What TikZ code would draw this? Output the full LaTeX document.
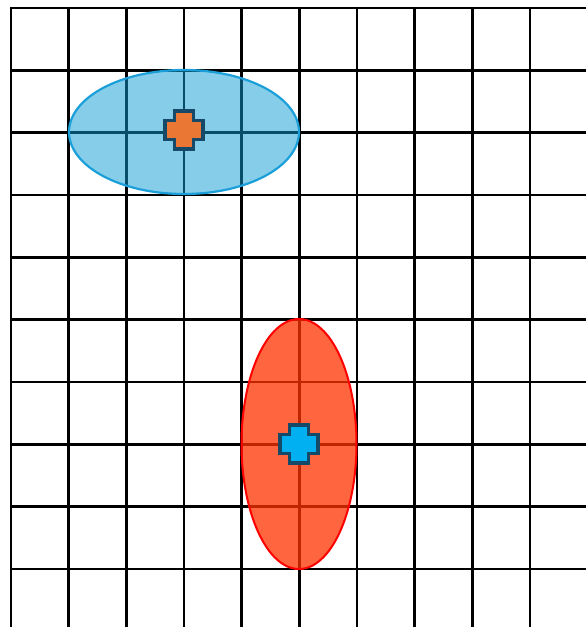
\documentclass[tikz,border=0pt]{standalone}
\usetikzlibrary{calc}
\definecolor{gridc}{RGB}{0,0,0}
\definecolor{bluefill}{RGB}{15,157,215}
\definecolor{blueline}{RGB}{26,159,217}
\definecolor{redfill}{RGB}{255,51,0}
\definecolor{redline}{RGB}{255,0,0}
\definecolor{plusline}{RGB}{22,72,104}
\definecolor{orangec}{RGB}{235,119,52}
\definecolor{cyanc}{RGB}{0,176,240}
\tikzset{
  gridline/.style={draw=gridc, line width=2.4pt},
  blueell/.style={draw=blueline, line width=2.2pt, fill=bluefill, fill opacity=0.5},
  redell/.style={draw=redline, line width=2pt, fill=redfill, fill opacity=0.75},
  plusmark/.style={draw=plusline, line width=3.6pt, line join=miter},
}
\newcommand{\plusat}[3]{% center x, center y, fill
  \filldraw[plusmark, fill=#3] ($(#1,#2)+(-9.5,-19)$) -- ++(19,0) -- ++(0,9.5) -- ++(9.5,0) -- ++(0,19) -- ++(-9.5,0) -- ++(0,9.5) -- ++(-19,0) -- ++(0,-9.5) -- ++(-9.5,0) -- ++(0,-19) -- ++(9.5,0) -- cycle;}
\begin{document}
\begin{tikzpicture}[x=1pt,y=-1pt]
  \useasboundingbox (0,0) rectangle (586,627);
  \fill[white] (0,0) rectangle (586,627);
  \begin{scope}
    \clip (0,0) rectangle (586,627);
    \foreach \i in {0,...,10} {
      \draw[gridline] ({11+57.67*\i},8) -- ({11+57.67*\i},640);
    }
    \foreach \j in {0,...,10} {
      \draw[gridline] (11,{8+62.33*\j}) -- (600,{8+62.33*\j});
    }
    \draw[gridline] (9.8,8) -- (600,8);
  \end{scope}
  \path[blueell] (184,132) ellipse [x radius=115, y radius=62];
  \path[redell] (299,444) ellipse [x radius=57.5, y radius=125];
  \plusat{184}{130}{orangec}
  \plusat{299}{444}{cyanc}
\end{tikzpicture}
\end{document}
